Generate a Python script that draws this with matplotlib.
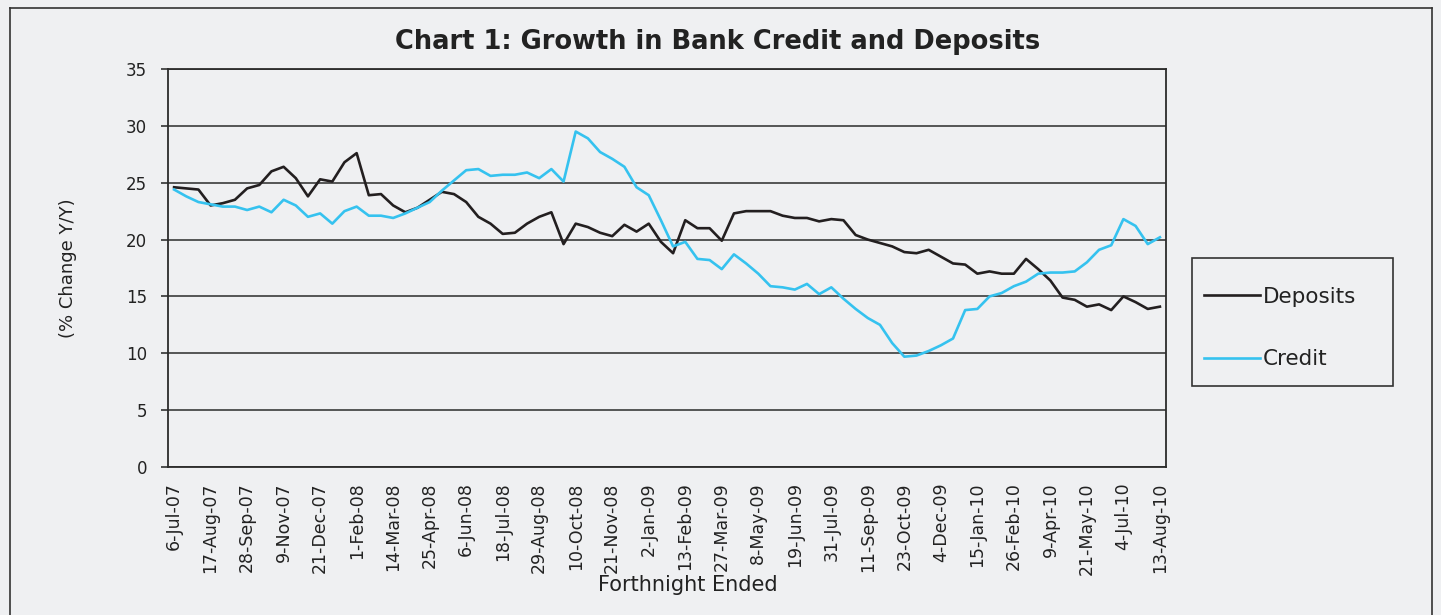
import matplotlib
matplotlib.use('Agg')
import matplotlib.pyplot as plt
from matplotlib.patches import Rectangle
from matplotlib.lines import Line2D

# ==========================================
# DATA (fortnightly, % change Y/Y)
# ==========================================
deposits = [
    24.6, 24.5, 24.4, 23.0, 23.2, 23.5, 24.5, 24.8, 26.0, 26.4,
    25.4, 23.8, 25.3, 25.1, 26.8, 27.6, 23.9, 24.0, 23.0, 22.4,
    22.8, 23.5, 24.2, 24.0, 23.3, 22.0, 21.4, 20.5, 20.6, 21.4,
    22.0, 22.4, 19.6, 21.4, 21.1, 20.6, 20.3, 21.3, 20.7, 21.4,
    19.8, 18.8, 21.7, 21.0, 21.0, 19.9, 22.3, 22.5, 22.5, 22.5,
    22.1, 21.9, 21.9, 21.6, 21.8, 21.7, 20.4, 20.0, 19.7, 19.4,
    18.9, 18.8, 19.1, 18.5, 17.9, 17.8, 17.0, 17.2, 17.0, 17.0,
    18.3, 17.4, 16.4, 14.9, 14.7, 14.1, 14.3, 13.8, 15.0, 14.5,
    13.9, 14.1,
]
credit = [
    24.4, 23.8, 23.3, 23.1, 22.9, 22.9, 22.6, 22.9, 22.4, 23.5,
    23.0, 22.0, 22.3, 21.4, 22.5, 22.9, 22.1, 22.1, 21.9, 22.3,
    22.8, 23.3, 24.3, 25.2, 26.1, 26.2, 25.6, 25.7, 25.7, 25.9,
    25.4, 26.2, 25.1, 29.5, 28.9, 27.7, 27.1, 26.4, 24.6, 23.9,
    21.7, 19.4, 19.8, 18.3, 18.2, 17.4, 18.7, 17.9, 17.0, 15.9,
    15.8, 15.6, 16.1, 15.2, 15.8, 14.8, 13.9, 13.1, 12.5, 10.9,
    9.7, 9.8, 10.2, 10.7, 11.3, 13.8, 13.9, 15.0, 15.3, 15.9,
    16.3, 17.0, 17.1, 17.1, 17.2, 18.0, 19.1, 19.5, 21.8, 21.2,
    19.6, 20.2,
]
tick_labels = [
    '6-Jul-07', '17-Aug-07', '28-Sep-07', '9-Nov-07', '21-Dec-07', '1-Feb-08',
    '14-Mar-08', '25-Apr-08', '6-Jun-08', '18-Jul-08', '29-Aug-08', '10-Oct-08',
    '21-Nov-08', '2-Jan-09', '13-Feb-09', '27-Mar-09', '8-May-09', '19-Jun-09',
    '31-Jul-09', '11-Sep-09', '23-Oct-09', '4-Dec-09', '15-Jan-10', '26-Feb-10',
    '9-Apr-10', '21-May-10', '4-Jul-10', '13-Aug-10',
]

BG = '#eff0f2'
BLACK = '#231f20'
BLUE = '#35c2ef'
TXT = '#222222'

plt.rcParams['font.family'] = ['DejaVu Sans']

W, H = 1441, 615
fig = plt.figure(figsize=(W / 100, H / 100), dpi=100, facecolor=BG)
ax = fig.add_axes([168 / W, 1 - 467 / H, (1166 - 168) / W, (467 - 69) / H])
ax.set_facecolor(BG)

x = list(range(len(deposits)))
ax.plot(x, deposits, color=BLACK, lw=1.9, label='Deposits', zorder=3)
ax.plot(x, credit, color=BLUE, lw=1.9, label='Credit', zorder=3)

ax.set_xlim(-0.5, len(deposits) - 0.5)
ax.set_ylim(0, 35)
ax.set_yticks(range(0, 36, 5))
ax.grid(axis='y', color='#2b2b2b', lw=1.1)
ax.set_axisbelow(True)

ax.set_xticks(range(0, len(deposits), 3))
ax.set_xticklabels(tick_labels, rotation=90, fontsize=12.5, color=TXT)
ax.tick_params(axis='x', length=0, pad=11)
ax.tick_params(axis='y', labelsize=12, colors=TXT, length=5, width=1.1,
               direction='out', pad=10)

for s in ax.spines.values():
    s.set_color('#2b2b2b')
    s.set_linewidth(1.3)

ax.set_xlabel('Forthnight Ended', fontsize=15, color=TXT)
ax.xaxis.label.set_va('center')
ax.xaxis.set_label_coords((688 - 168) / 998, -(585 - 467) / 398)
ax.set_ylabel('(% Change Y/Y)', fontsize=13, color=TXT)
ax.yaxis.label.set_va('center')
ax.yaxis.set_label_coords((68 - 168) / 998, 0.5)

fig.text(718 / W, 1 - 42 / H, 'Chart 1: Growth in Bank Credit and Deposits',
         ha='center', va='center', fontsize=18.5, fontweight='bold', color=TXT)

# outer frame of the chart
fr = dict(color='#333333', lw=1.2, transform=fig.transFigure)
fig.add_artist(Line2D([10 / W, 10 / W], [0, 1 - 8 / H], **fr))
fig.add_artist(Line2D([1432 / W, 1432 / W], [0, 1 - 8 / H], **fr))
fig.add_artist(Line2D([10 / W, 1432 / W], [1 - 8 / H, 1 - 8 / H], **fr))

# legend box
fig.add_artist(Rectangle((1192 / W, 1 - 386 / H), (1393 - 1192) / W, (386 - 258) / H,
                         transform=fig.transFigure, fill=False, ec='#333333', lw=1.2))
leg = fig.legend(loc='upper left', bbox_to_anchor=(1193 / W, 1 - 276 / H),
                 frameon=False, fontsize=15.5, handlelength=2.6, handletextpad=0.15,
                 labelspacing=1.98, borderpad=0)
for t in leg.get_texts():
    t.set_color(TXT)

fig.savefig('out.png', dpi=100, facecolor=BG)
